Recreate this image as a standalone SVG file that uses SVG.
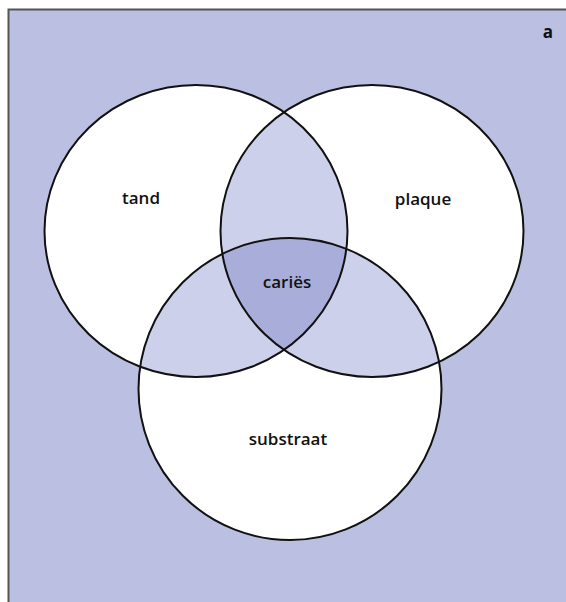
<svg xmlns="http://www.w3.org/2000/svg" width="566" height="602" viewBox="0 0 566 602">
<style>
.c{fill:#ffffff}
.o{fill:none;stroke:#111;stroke-width:2}
.p{fill:#cdd0ea}
.lbl{font-family:"Open Sans","Liberation Sans",sans-serif;font-weight:600;font-size:17px;fill:#111;text-anchor:middle}
</style>
<defs>
<clipPath id="cA"><ellipse cx="196" cy="231" rx="151.5" ry="146"/></clipPath>
<clipPath id="cB"><ellipse cx="372" cy="231" rx="151.5" ry="146"/></clipPath>
</defs>
<rect x="0" y="0" width="566" height="602" fill="#ffffff"/>
<rect x="8" y="9" width="560" height="596" fill="#bbbfe2"/>
<path d="M8.5 602V9.5H566" fill="none" stroke="#555" stroke-width="2"/>
<g id="fills">
<ellipse class="c" cx="196" cy="231" rx="151.5" ry="146"/>
<ellipse class="c" cx="372" cy="231" rx="151.5" ry="146"/>
<ellipse class="c" cx="290" cy="389" rx="151.5" ry="151"/>
<g clip-path="url(#cA)"><ellipse class="p" cx="372" cy="231" rx="151.5" ry="146"/><ellipse class="p" cx="290" cy="389" rx="151.5" ry="151"/></g>
<g clip-path="url(#cB)"><ellipse class="p" cx="290" cy="389" rx="151.5" ry="151"/></g>
<g clip-path="url(#cA)"><g clip-path="url(#cB)"><ellipse fill="#a8add9" cx="290" cy="389" rx="151.5" ry="151"/></g></g>
</g>
<g id="tand">
<ellipse class="o" cx="196" cy="231" rx="151.5" ry="146"/>
<text class="lbl" x="141" y="204">tand</text>
</g>
<g id="plaque">
<ellipse class="o" cx="372" cy="231" rx="151.5" ry="146"/>
<text class="lbl" x="423" y="205">plaque</text>
</g>
<g id="substraat">
<ellipse class="o" cx="290" cy="389" rx="151.5" ry="151"/>
<text class="lbl" x="288" y="445">substraat</text>
</g>
<g id="caries">
<text class="lbl" x="287" y="288">cariës</text>
</g>
<g id="label-a">
<text class="lbl" x="548" y="38" style="font-weight:700">a</text>
</g>
<g id="connectors"/>
</svg>
